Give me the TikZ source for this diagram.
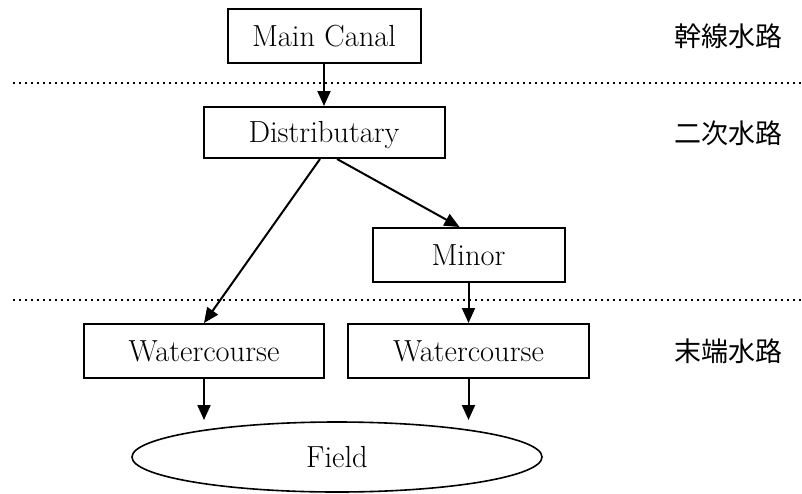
\documentclass[tikz,border=0pt]{standalone}
\usepackage{fontspec}
\newfontfamily\jpfont{Noto Sans CJK JP}
\usetikzlibrary{arrows.meta,shapes.geometric}

\tikzset{
  chantext/.style={font=\fontsize{30.5}{36}\selectfont, text height=21.5pt, text depth=1pt},
  chan/.style={draw, line width=2pt, inner sep=0pt, minimum height=54pt, chantext},
  fieldshape/.style={draw, ellipse, line width=1.6pt, inner sep=0pt,
    minimum width=410pt, minimum height=70pt, chantext},
  flow/.style={line width=2pt, -{Triangle[length=15pt,width=13pt]}},
  tier/.style={line width=2pt, dash pattern=on 2pt off 4pt},
  tierlabel/.style={font=\jpfont\fontsize{27}{32}\selectfont, inner sep=0pt}
}

\begin{document}
\begin{tikzpicture}[x=1pt, y=-1pt]
  \useasboundingbox (0,0) rectangle (802,493);

  % channel boxes
  \node[chan, minimum width=193pt] (main)  at (324,36)    {Main Canal};
  \node[chan, minimum width=241pt, minimum height=51pt] (dist) at (324,132.5) {Distributary};
  \node[chan, minimum width=192pt] (minor) at (468.5,255) {Minor};
  \node[chan, minimum width=240pt] (wc1)   at (204,351)   {Watercourse};
  \node[chan, minimum width=241pt] (wc2)   at (468.5,351) {Watercourse};
  \node[fieldshape] (field) at (337,457) {Field};

  % tier separators
  \coordinate (s1a) at (13,83);  \coordinate (s1b) at (802,83);
  \coordinate (s2a) at (13,300); \coordinate (s2b) at (802,300);
  \draw[tier] (s1a) -- (s1b);
  \draw[tier] (s2a) -- (s2b);

  % tier names
  \node[tierlabel] (t1) at (728,36)  {幹線水路};
  \node[tierlabel] (t2) at (728,133) {二次水路};
  \node[tierlabel] (t3) at (728,351) {末端水路};

  % flow connectors
  \draw[flow] (main.south) -- (dist.north);
  \draw[flow] ([xshift=-4pt]dist.south) -- (wc1.north);
  \draw[flow] ([xshift=13pt]dist.south) -- ([xshift=-9pt]minor.north);
  \draw[flow] (minor.south) -- (wc2.north);
  \coordinate (f1) at (204,420);
  \coordinate (f2) at (468.5,420);
  \draw[flow] (wc1.south) -- (f1);
  \draw[flow] (wc2.south) -- (f2);
\end{tikzpicture}
\end{document}
